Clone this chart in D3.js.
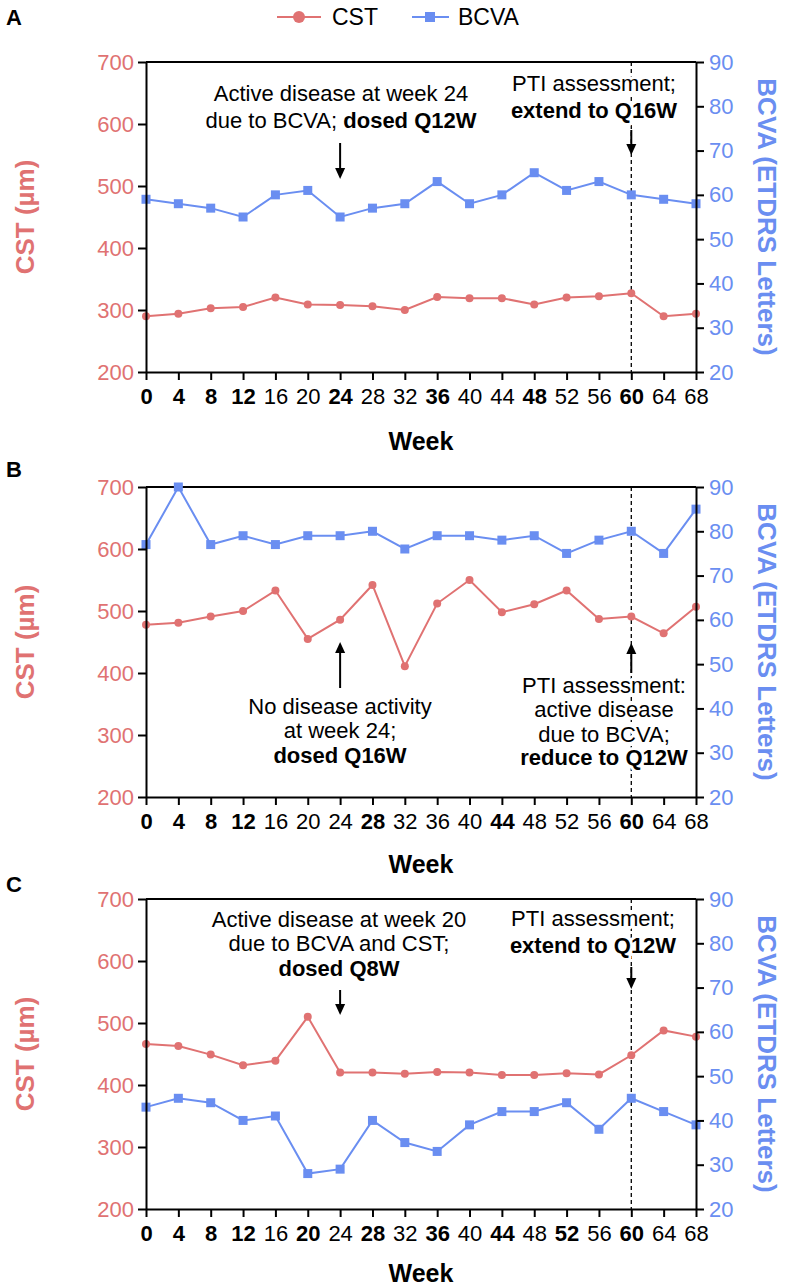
<!DOCTYPE html>
<html><head><meta charset="utf-8">
<script src="https://cdn.jsdelivr.net/npm/d3@7"></script>
<style>body{margin:0;background:#fff}svg{display:block;font-family:"Liberation Sans",Arial,sans-serif}</style>
</head><body>
<svg id="chart" width="787" height="1287"></svg>
<script>
// ---------- data ----------
const weeks = [0,4,8,12,16,20,24,28,32,36,40,44,48,52,56,60,64,68];
const cstA  = [290,294,303,305,320,309,308,306,300,321,319,319,309,320,322,327,290,294];
const bcvaA = [59,58,57,55,60,61,55,57,58,63,58,60,65,61,63,60,59,58];
const cstB  = [478,481,491,500,533,455,486,542,411,512,550,498,511,533,487,491,464,507];
const bcvaB = [77,90,77,79,77,79,79,80,76,79,79,78,79,75,78,80,75,85];
const cstC  = [466,463,449,432,439,510,420,420,418,421,420,416,416,419,417,448,488,478];
const bcvaC = [43,45,44,40,41,28,29,40,35,33,39,42,42,44,38,45,42,39];
const boldA = [0,4,8,12,24,36,48,60];
const boldB = [0,4,8,12,28,44,60];
const boldC = [0,4,8,12,20,28,36,44,52,60];
const cstTicks  = [200,300,400,500,600,700];
const bcvaTicks = [20,30,40,50,60,70,80,90];
const panelLabels = ["A","B","C"];
const seriesNames = ["CST","BCVA"];
const cstTitle = "CST (µm)";
const bcvaTitle = "BCVA (ETDRS Letters)";
const xTitle = "Week";
// annotation texts: each line is a list of [text, bold]
const annA1 = [[["Active disease at week 24",false]],[["due to BCVA; ",false],["dosed Q12W",true]]];
const annA2 = [[["PTI assessment;",false]],[["extend to Q16W",true]]];
const annB1 = [[["No disease activity",false]],[["at week 24;",false]],[["dosed Q16W",true]]];
const annB2 = [[["PTI assessment:",false]],[["active disease",false]],[["due to BCVA;",false]],[["reduce to Q12W",true]]];
const annC1 = [[["Active disease at week 20",false]],[["due to BCVA and CST;",false]],[["dosed Q8W",true]]];
const annC2 = [[["PTI assessment;",false]],[["extend to Q12W",true]]];
const arrowWeeks = [24, 60];
const ptiWeek = 60;

// ---------- style / layout ----------
const RED = "#e07272", BLUE = "#6a8ef1";
const X0 = 146, X1 = 696, H = 310;
const tops = [62, 487, 899];
const TICKFONT = '"Liberation Sans Narrow","Arial Narrow","Liberation Sans",Arial,sans-serif';

const svg = d3.select("#chart");

const panels = [
  {top: tops[0], cst: cstA, bcva: bcvaA, bold: boldA, weekDy: 78,
   anns: [{lines: annA1, cx: 341, base: [39, 66]}, {lines: annA2, cx: 594, base: [29, 56]}],
   arrows: [{w: arrowWeeks[0], from: 81, to: 117}, {w: arrowWeeks[1], from: 68, to: 93}]},
  {top: tops[1], cst: cstB, bcva: bcvaB, bold: boldB, weekDy: 76,
   anns: [{lines: annB1, cx: 340, base: [227, 251, 276]}, {lines: annB2, cx: 604, base: [206, 230, 255, 278]}],
   arrows: [{w: arrowWeeks[0], from: 201, to: 155}, {w: arrowWeeks[1], from: 186, to: 156}]},
  {top: tops[2], cst: cstC, bcva: bcvaC, bold: boldC, weekDy: 73,
   anns: [{lines: annC1, cx: 339, base: [28, 52, 77]}, {lines: annC2, cx: 593, base: [27, 54]}],
   arrows: [{w: arrowWeeks[0], from: 91, to: 116}, {w: arrowWeeks[1], from: 68, to: 90}]}
];

const x = d3.scaleLinear().domain([0, 68]).range([X0, X1]);

panels.forEach((p, i) => {
  const g = svg.append("g");
  const bottom = p.top + H;
  const yL = d3.scaleLinear().domain([200, 700]).range([bottom, p.top]);
  const yR = d3.scaleLinear().domain([20, 90]).range([bottom, p.top]);

  // dashed PTI line
  g.append("line").attr("x1", x(ptiWeek)).attr("x2", x(ptiWeek))
    .attr("y1", p.top).attr("y2", bottom)
    .attr("stroke", "#000").attr("stroke-width", 1.3).attr("stroke-dasharray", "4,3");

  // annotations
  p.anns.forEach(a => {
    a.lines.forEach((segs, li) => {
      const t = g.append("text").attr("x", a.cx).attr("y", p.top + a.base[li])
        .attr("text-anchor", "middle").attr("font-size", 22).attr("fill", "#000")
        .attr("stroke", "#fff").attr("stroke-width", 6).attr("paint-order", "stroke")
        .attr("stroke-linejoin", "round");
      segs.forEach(s => t.append("tspan").text(s[0]).attr("font-weight", s[1] ? "bold" : "normal"));
    });
  });

  // arrows
  p.arrows.forEach(a => {
    const ax = x(a.w), y1 = p.top + a.from, y2 = p.top + a.to;
    const dir = y2 > y1 ? 1 : -1;
    g.append("line").attr("x1", ax).attr("x2", ax).attr("y1", y1).attr("y2", y2 - dir * 8)
      .attr("stroke", "#000").attr("stroke-width", 2);
    g.append("path")
      .attr("d", `M${ax - 5},${y2 - dir * 11}L${ax + 5},${y2 - dir * 11}L${ax},${y2}Z`)
      .attr("fill", "#000");
  });

  // top border
  g.append("line").attr("x1", X0).attr("x2", X1).attr("y1", p.top).attr("y2", p.top)
    .attr("stroke", "#000").attr("stroke-width", 2);

  // data lines
  const lineL = d3.line().x((d, j) => x(weeks[j])).y(d => yL(d));
  const lineR = d3.line().x((d, j) => x(weeks[j])).y(d => yR(d));
  g.append("path").datum(p.cst).attr("d", lineL).attr("fill", "none")
    .attr("stroke", RED).attr("stroke-width", 2);
  g.append("path").datum(p.bcva).attr("d", lineR).attr("fill", "none")
    .attr("stroke", BLUE).attr("stroke-width", 2);
  g.selectAll(".cdot").data(p.cst).enter().append("circle")
    .attr("cx", (d, j) => x(weeks[j])).attr("cy", d => yL(d)).attr("r", 4).attr("fill", RED);
  g.selectAll(".bsq").data(p.bcva).enter().append("rect")
    .attr("x", (d, j) => x(weeks[j]) - 4.5).attr("y", d => yR(d) - 4.5)
    .attr("width", 9).attr("height", 9).attr("fill", BLUE);

  // axes
  const ax = d3.axisBottom(x).tickValues(weeks).tickSize(8).tickSizeOuter(0).tickPadding(8).tickFormat(d3.format("d"));
  const gx = g.append("g").attr("transform", `translate(0,${bottom})`).call(ax);
  gx.selectAll("text").attr("font-size", 22).attr("fill", "#000").attr("font-family", TICKFONT)
    .attr("font-weight", d => p.bold.includes(d) ? "bold" : "normal");

  const al = d3.axisLeft(yL).tickValues(cstTicks).tickSize(8).tickSizeOuter(0).tickPadding(4);
  const gl = g.append("g").attr("transform", `translate(${X0},0)`).call(al);
  gl.selectAll("text").attr("font-size", 22).attr("fill", RED).attr("font-family", TICKFONT);

  const ar = d3.axisRight(yR).tickValues(bcvaTicks).tickSize(8).tickSizeOuter(0).tickPadding(5);
  const gr = g.append("g").attr("transform", `translate(${X1},0)`).call(ar);
  gr.selectAll("text").attr("font-size", 22).attr("fill", BLUE).attr("font-family", TICKFONT);

  [gx, gl, gr].forEach(a => {
    a.select(".domain").attr("stroke", "#000").attr("stroke-width", 2);
    a.selectAll(".tick line").attr("stroke", "#000").attr("stroke-width", 2);
  });

  // axis titles
  const cy = p.top + H / 2;
  g.append("text").attr("transform", `translate(25,${cy}) rotate(-90)`)
    .attr("text-anchor", "middle").attr("dominant-baseline", "central")
    .attr("font-size", 26).attr("font-weight", "bold").attr("fill", RED).text(cstTitle);
  g.append("text").attr("transform", `translate(767,${cy}) rotate(90)`)
    .attr("text-anchor", "middle").attr("dominant-baseline", "central")
    .attr("font-size", 26).attr("font-weight", "bold").attr("fill", BLUE).text(bcvaTitle);
  g.append("text").attr("x", (X0 + X1) / 2).attr("y", bottom + p.weekDy)
    .attr("text-anchor", "middle").attr("font-size", 25).attr("font-weight", "bold")
    .attr("fill", "#000").text(xTitle);
});

// panel letters
const letterY = [25, 477, 892];
panelLabels.forEach((l, i) => svg.append("text").attr("x", 6).attr("y", letterY[i])
  .attr("font-size", 22).attr("font-weight", "bold").attr("fill", "#000").text(l));

// legend
const lg = svg.append("g");
lg.append("line").attr("x1", 277).attr("x2", 321).attr("y1", 17).attr("y2", 17).attr("stroke", RED).attr("stroke-width", 2);
lg.append("circle").attr("cx", 299).attr("cy", 17).attr("r", 6).attr("fill", RED);
lg.append("text").attr("x", 332).attr("y", 25).attr("font-size", 23).attr("fill", "#000").text(seriesNames[0]);
lg.append("line").attr("x1", 412).attr("x2", 449).attr("y1", 17).attr("y2", 17).attr("stroke", BLUE).attr("stroke-width", 2);
lg.append("rect").attr("x", 425).attr("y", 12).attr("width", 10).attr("height", 10).attr("fill", BLUE);
lg.append("text").attr("x", 458).attr("y", 25).attr("font-size", 23).attr("fill", "#000").text(seriesNames[1]);
</script>
</body></html>
